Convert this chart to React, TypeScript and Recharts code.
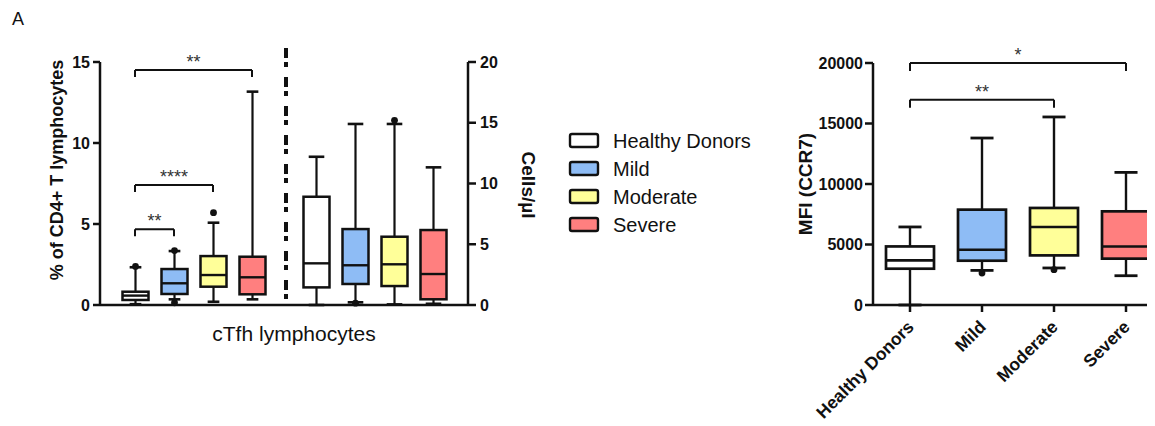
import React from 'react';
import { ComposedChart, Bar, XAxis, YAxis, ReferenceLine, Label } from 'recharts';

const FONT = '"Liberation Sans", Arial, Helvetica, sans-serif';
const INK = '#111111';

const groups = ['Healthy Donors', 'Mild', 'Moderate', 'Severe'];
const groupColors = ['#ffffff', '#8ebcf5', '#ffff99', '#ff7f7f'];

// box stats: [min, q1, median, q3, max]
const pctStats = [
  [0.05, 0.31, 0.58, 0.82, 2.33],
  [0.35, 0.68, 1.34, 2.22, 3.33],
  [0.2, 1.13, 1.85, 3.02, 5.08],
  [0.35, 0.66, 1.71, 2.98, 13.17],
];
const pctOutliers = [[2.38], [3.36, 0.14], [5.7], []];

const cellStats = [
  [0, 1.45, 3.43, 8.91, 12.2],
  [0.22, 1.73, 3.27, 6.25, 14.9],
  [0.05, 1.56, 3.35, 5.62, 14.9],
  [0.1, 0.47, 2.55, 6.17, 11.33],
];
const cellOutliers = [[], [0.15], [15.2], []];

const mfiStats = [
  [0, 3000, 3690, 4840, 6450],
  [2860, 3660, 4570, 7880, 13800],
  [3060, 4100, 6450, 8020, 15540],
  [2420, 3830, 4840, 7740, 10960],
];
const mfiOutliers = [[], [2640], [2920], []];

const pctTicks = [0, 5, 10, 15];
const cellTicks = [0, 5, 10, 15, 20];
const mfiTicks = [0, 5000, 10000, 15000, 20000];

// significance brackets: from group, to group, bracket level, level of drop ends, label
const pctBrackets = [
  { from: 'Healthy Donors', to: 'Severe', y: 14.5, yEnd: 14.07, label: '**' },
  { from: 'Healthy Donors', to: 'Moderate', y: 7.4, yEnd: 6.97, label: '****' },
  { from: 'Healthy Donors', to: 'Mild', y: 4.67, yEnd: 4.24, label: '**' },
];
const mfiBrackets = [
  { from: 'Healthy Donors', to: 'Severe', y: 20000, yEnd: 19340, label: '*' },
  { from: 'Healthy Donors', to: 'Moderate', y: 16970, yEnd: 16310, label: '**' },
];

const leftData = groups.map((g, i) => ({
  group: g,
  pct: pctStats[i],
  pctOut: pctOutliers[i],
  pctRange: [pctStats[i][0], pctStats[i][4]],
  cells: cellStats[i],
  cellsOut: cellOutliers[i],
  cellsRange: [cellStats[i][0], cellStats[i][4]],
}));

const mfiData = groups.map((g, i) => ({
  group: g,
  mfi: mfiStats[i],
  mfiOut: mfiOutliers[i],
  mfiRange: [mfiStats[i][0], mfiStats[i][4]],
}));

const makeBox = (statsKey: string, outKey: string, capRatio: number, lw: number) => (props: any) => {
  const { x, y, width, height, payload } = props;
  const s: number[] = payload[statsKey];
  const out: number[] = payload[outKey] || [];
  const idx = groups.indexOf(payload.group);
  const color = groupColors[idx];
  const span = s[4] - s[0];
  const py = (v: number) => y + (height * (s[4] - v)) / span;
  const cx = x + width / 2;
  const cap = (width * capRatio) / 2;
  return (
    <g>
      <line x1={cx} x2={cx} y1={py(s[4])} y2={py(s[3])} stroke={INK} strokeWidth={lw} />
      <line x1={cx} x2={cx} y1={py(s[1])} y2={py(s[0])} stroke={INK} strokeWidth={lw} />
      <line x1={cx - cap} x2={cx + cap} y1={py(s[4])} y2={py(s[4])} stroke={INK} strokeWidth={lw + 0.4} />
      <line x1={cx - cap} x2={cx + cap} y1={py(s[0])} y2={py(s[0])} stroke={INK} strokeWidth={lw + 0.4} />
      <rect x={x} y={py(s[3])} width={width} height={py(s[1]) - py(s[3])} fill={color} stroke={INK} strokeWidth={lw + 0.3} />
      <line x1={x} x2={x + width} y1={py(s[2])} y2={py(s[2])} stroke={INK} strokeWidth={lw + 0.2} />
      {out.map((v, k) => (
        <circle key={k} cx={cx} cy={py(v)} r={3.4} fill={INK} />
      ))}
    </g>
  );
};

const pctBox = makeBox('pct', 'pctOut', 0.45, 2.2);
const cellsBox = makeBox('cells', 'cellsOut', 0.6, 2.2);
const mfiBox = makeBox('mfi', 'mfiOut', 0.48, 2.4);

const tickStyle = { fontSize: 16, fontWeight: 700, fill: INK, fontFamily: FONT };

const LeftTitle = (props: any) => {
  const vb = props.viewBox;
  const x = vb.x + 17;
  const y = vb.y + vb.height / 2 - 13.5;
  return (
    <text x={x} y={y} transform={`rotate(-90, ${x}, ${y})`} textAnchor="middle" dominantBaseline="central"
      fontSize={18} fontWeight={700} fill={INK} fontFamily={FONT}>
      % of CD4+ T lymphocytes
    </text>
  );
};

const RightTitle = (props: any) => {
  const vb = props.viewBox;
  const x = vb.x + 60;
  const y = vb.y + vb.height / 2 + 1.5;
  return (
    <text x={x} y={y} transform={`rotate(90, ${x}, ${y})`} textAnchor="middle" dominantBaseline="central"
      fontSize={19} fontWeight={700} fill={INK} fontFamily={FONT}>
      Cells/µl
    </text>
  );
};

const BottomTitle = (props: any) => {
  const vb = props.viewBox;
  const x = vb.x + vb.width / 2 + 10;
  const y = vb.y + 36;
  return (
    <text x={x} y={y} textAnchor="middle" fontSize={21} fill={INK} fontFamily={FONT}>
      cTfh lymphocytes
    </text>
  );
};

const MfiTitle = (props: any) => {
  const vb = props.viewBox;
  const x = vb.x + 7;
  const y = vb.y + vb.height / 2;
  return (
    <text x={x} y={y} transform={`rotate(-90, ${x}, ${y})`} textAnchor="middle" dominantBaseline="central"
      fontSize={19} fontWeight={700} fill={INK} fontFamily={FONT}>
      MFI (CCR7)
    </text>
  );
};

const RotTick = (props: any) => {
  const { x, y, payload } = props;
  return (
    <g transform={`translate(${x},${y})`}>
      <text transform="translate(5,14) rotate(-45)" textAnchor="end" fontSize={17.5} fontWeight={700}
        fill={INK} fontFamily={FONT}>
        {payload.value}
      </text>
    </g>
  );
};

const bracketLabel = (text: string) => ({
  value: text,
  position: 'top' as const,
  offset: 2,
  fill: '#333',
  fontSize: 18,
  fontFamily: FONT,
});

const renderBrackets = (list: any[], xId: any, yId: any) =>
  list.flatMap((b, i) => [
    <ReferenceLine key={`h${i}`} xAxisId={xId} yAxisId={yId} ifOverflow="visible"
      segment={[{ x: b.from, y: b.y }, { x: b.to, y: b.y }]} stroke={INK} strokeWidth={2}
      label={bracketLabel(b.label)} />,
    <ReferenceLine key={`l${i}`} xAxisId={xId} yAxisId={yId} ifOverflow="visible"
      segment={[{ x: b.from, y: b.y }, { x: b.from, y: b.yEnd }]} stroke={INK} strokeWidth={2} />,
    <ReferenceLine key={`r${i}`} xAxisId={xId} yAxisId={yId} ifOverflow="visible"
      segment={[{ x: b.to, y: b.y }, { x: b.to, y: b.yEnd }]} stroke={INK} strokeWidth={2} />,
  ]);

export default function App() {
  return (
    <div style={{ position: 'relative', width: 1146, height: 418, overflow: 'hidden', fontFamily: FONT, background: '#fff' }}>
      <div style={{ position: 'absolute', left: 0, top: 0 }}>
        <ComposedChart width={560} height={350} data={leftData} margin={{ top: 54, left: 32, right: 40, bottom: 23 }}>
          <XAxis xAxisId="a" dataKey="group" type="category" height={30} tick={false} tickLine={false}
            axisLine={{ stroke: INK, strokeWidth: 2.5 }} padding={{ left: 15.5, right: 196.5 }}>
            <Label content={BottomTitle} />
          </XAxis>
          <XAxis xAxisId="b" dataKey="group" type="category" hide padding={{ left: 196.5, right: 15.5 }} />
          <YAxis yAxisId="pct" orientation="left" width={60} domain={[0, 15]} ticks={pctTicks}
            tick={tickStyle} tickSize={7} tickMargin={3} axisLine={{ stroke: INK, strokeWidth: 2.5 }}
            tickLine={{ stroke: INK, strokeWidth: 2.5 }}>
            <Label content={LeftTitle} />
          </YAxis>
          <YAxis yAxisId="cells" orientation="right" width={60} domain={[0, 20]} ticks={cellTicks}
            tick={tickStyle} tickSize={8} tickMargin={4} axisLine={{ stroke: INK, strokeWidth: 2.5 }}
            tickLine={{ stroke: INK, strokeWidth: 2.5 }}>
            <Label content={RightTitle} />
          </YAxis>
          <Bar xAxisId="a" yAxisId="pct" dataKey="pctRange" barSize={26} shape={pctBox} isAnimationActive={false} />
          <Bar xAxisId="b" yAxisId="cells" dataKey="cellsRange" barSize={26} shape={cellsBox} isAnimationActive={false} />
          {renderBrackets(pctBrackets, 'a', 'pct')}
        </ComposedChart>
      </div>

      <div style={{ position: 'absolute', left: 760, top: 0 }}>
        <ComposedChart width={400} height={418} data={mfiData} margin={{ top: 55, left: 30, right: 5, bottom: 0 }}>
          <XAxis xAxisId="m" dataKey="group" type="category" height={121} interval={0} tick={<RotTick />} tickSize={7}
            tickMargin={2} axisLine={{ stroke: INK, strokeWidth: 2.5 }} tickLine={{ stroke: INK, strokeWidth: 2.5 }}
            padding={{ left: 1, right: 1 }} />
          <YAxis yAxisId="m" width={75} domain={[0, 20000]} ticks={mfiTicks} tick={tickStyle} tickSize={8} tickMargin={2}
            axisLine={{ stroke: INK, strokeWidth: 2.5 }} tickLine={{ stroke: INK, strokeWidth: 2.5 }}>
            <Label content={MfiTitle} />
          </YAxis>
          <Bar xAxisId="m" yAxisId="m" dataKey="mfiRange" barSize={48} shape={mfiBox} isAnimationActive={false} />
          {renderBrackets(mfiBrackets, 'm', 'm')}
        </ComposedChart>
      </div>

      <svg width={1146} height={418} style={{ position: 'absolute', left: 0, top: 0, pointerEvents: 'none' }}>
        <text x={4} y={17} fontSize={18} fill={INK} fontFamily={FONT}>A</text>
        <line x1={278} x2={278} y1={40} y2={297} stroke={INK} strokeWidth={4} strokeDasharray="10 4 5 10" />
        {groups.map((g, i) => (
          <g key={g}>
            <rect x={562} y={126 + i * 28} width={28} height={13} rx={2} fill={groupColors[i]} stroke={INK} strokeWidth={2.4} />
            <text x={605} y={132.5 + i * 28} dy="0.36em" fontSize={20} fill={INK} fontFamily={FONT}>{g}</text>
          </g>
        ))}
      </svg>
    </div>
  );
}
